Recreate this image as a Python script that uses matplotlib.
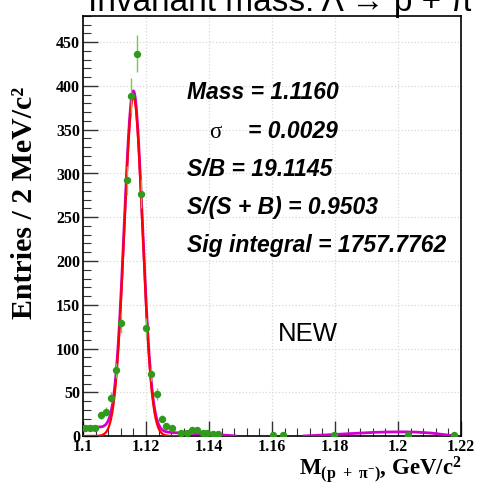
import matplotlib
matplotlib.use("Agg")
import matplotlib.pyplot as plt
import numpy as np
from matplotlib.ticker import MultipleLocator

# histogram points (bin centre in GeV/c^2, entries)
mass = [1.1006, 1.1022, 1.1038, 1.1057, 1.1073, 1.1089, 1.1105, 1.1122,
        1.1139, 1.1151, 1.1170, 1.1185, 1.1200, 1.1216, 1.1234, 1.1250,
        1.1265, 1.1283, 1.1310, 1.1329, 1.1347, 1.1363, 1.1380, 1.1395,
        1.1413, 1.1430, 1.1602, 1.1636, 1.1797, 1.2033, 1.2179]
entries = [9, 9, 9, 24, 28, 44, 75, 129,
           292, 389, 437, 277, 124, 71, 48, 20,
           11, 9, 4, 4, 7, 7, 3, 3,
           2, 2, 1, 1, 1, 1, 1]

# fit result shown on the plot
fit_mass = 1.1160
fit_sigma = 0.0029
fit_peak = 388.0

# background part of the total fit
bg_mass = [1.100, 1.105, 1.110, 1.116, 1.122, 1.128, 1.134, 1.140, 1.146,
           1.150, 1.160, 1.170, 1.175, 1.180, 1.185, 1.190, 1.195, 1.200,
           1.205, 1.210, 1.215, 1.218]
bg_val = [10.5, 10.0, 8.0, 6.5, 5.0, 4.0, 3.0, 2.0, 0.8,
          -0.5, -2.0, 0.0, 0.8, 1.8, 2.8, 3.8, 4.5, 4.8,
          4.6, 3.6, 1.5, 0.0]

stats = ["Mass = 1.1160", None, "S/B = 19.1145", "S/(S + B) = 0.9503",
         "Sig integral = 1757.7762"]

W, H = 478, 486


def fx(x):
    return x / W


def fy(y):
    return 1 - y / H


plt.rcParams["mathtext.fontset"] = "custom"
plt.rcParams["mathtext.rm"] = "Liberation Serif:bold"
plt.rcParams["mathtext.it"] = "Liberation Serif:bold"
plt.rcParams["mathtext.bf"] = "Liberation Serif:bold"

fig = plt.figure(figsize=(W / 100, H / 100), dpi=100)
ax = fig.add_axes([fx(83), fy(436), fx(461) - fx(83), fy(16) - fy(436)])

# fit curves
xs = np.linspace(1.1, 1.218, 600)
sig = fit_peak * np.exp(-0.5 * ((xs - fit_mass) / fit_sigma) ** 2)
total = sig + np.interp(xs, bg_mass, bg_val)
total[total < 0] = np.nan
ax.plot(xs, total, color="#d000d0", lw=2.0, zorder=3)
red = xs <= 1.13
ax.plot(xs[red], sig[red], color="#ff0000", lw=1.6, zorder=4)

# data points
ax.errorbar(mass, entries, yerr=np.sqrt(entries), fmt="o", ms=4.3,
            color="#2f9a1c", ecolor="#74c850", elinewidth=1.0, capsize=0,
            zorder=5)

ax.set_xlim(1.1, 1.22)
ax.set_ylim(0, 480)
ax.xaxis.set_minor_locator(MultipleLocator(0.004))
ax.yaxis.set_major_locator(MultipleLocator(50))
ax.yaxis.set_minor_locator(MultipleLocator(10))
ax.set_xticks([1.1, 1.12, 1.14, 1.16, 1.18, 1.2, 1.22])
ax.set_xticklabels(["1.1", "1.12", "1.14", "1.16", "1.18", "1.2", "1.22"])
ax.tick_params(which="both", direction="in", top=False, right=False,
               colors="#333333", labelcolor="black")
ax.tick_params(which="major", length=11, width=1.0, pad=2)
ax.tick_params(which="minor", length=6, width=0.8)
for lab in ax.get_xticklabels() + ax.get_yticklabels():
    lab.set_fontfamily("Liberation Serif")
    lab.set_fontweight("bold")
    lab.set_fontsize(11.5)
ax.grid(True, which="major", color="#d8d8d8", linestyle=":", lw=0.9)
ax.set_axisbelow(True)
for s in ax.spines.values():
    s.set_linewidth(1.2)

# labels
fig.text(fx(25), fy(203), "Entries / 2 MeV/c²", rotation=90, ha="center",
         va="center", family="Liberation Serif", weight="bold", fontsize=21.5)
fig.text(fx(462), fy(475), r"$\mathrm{M_{(p\ +\ \pi^{-})}}$, GeV/c$^{2}$",
         ha="right", va="baseline", family="Liberation Serif", weight="bold",
         fontsize=16.5)
fig.text(fx(88), fy(11), "Invariant mass: Λ → p + π", ha="left",
         va="baseline", family=["Liberation Sans", "DejaVu Sans"], fontsize=24)

# fit statistics
baselines = [99, 138, 176, 214, 252]
for txt, yb in zip(stats, baselines):
    if txt is None:
        continue
    fig.text(fx(187), fy(yb), txt, ha="left", va="baseline",
             family="Liberation Sans", weight="bold", style="italic",
             fontsize=16.5)
fig.text(fx(209), fy(138), "σ", ha="left", va="baseline",
         family="Liberation Serif", fontsize=16.5)
fig.text(fx(248), fy(138), "= 0.0029", ha="left", va="baseline",
         family="Liberation Sans", weight="bold", style="italic",
         fontsize=16.5)
fig.text(fx(278), fy(341), "NEW", ha="left", va="baseline",
         family="Liberation Sans", fontsize=18.5)

fig.savefig("out.png", dpi=100)
